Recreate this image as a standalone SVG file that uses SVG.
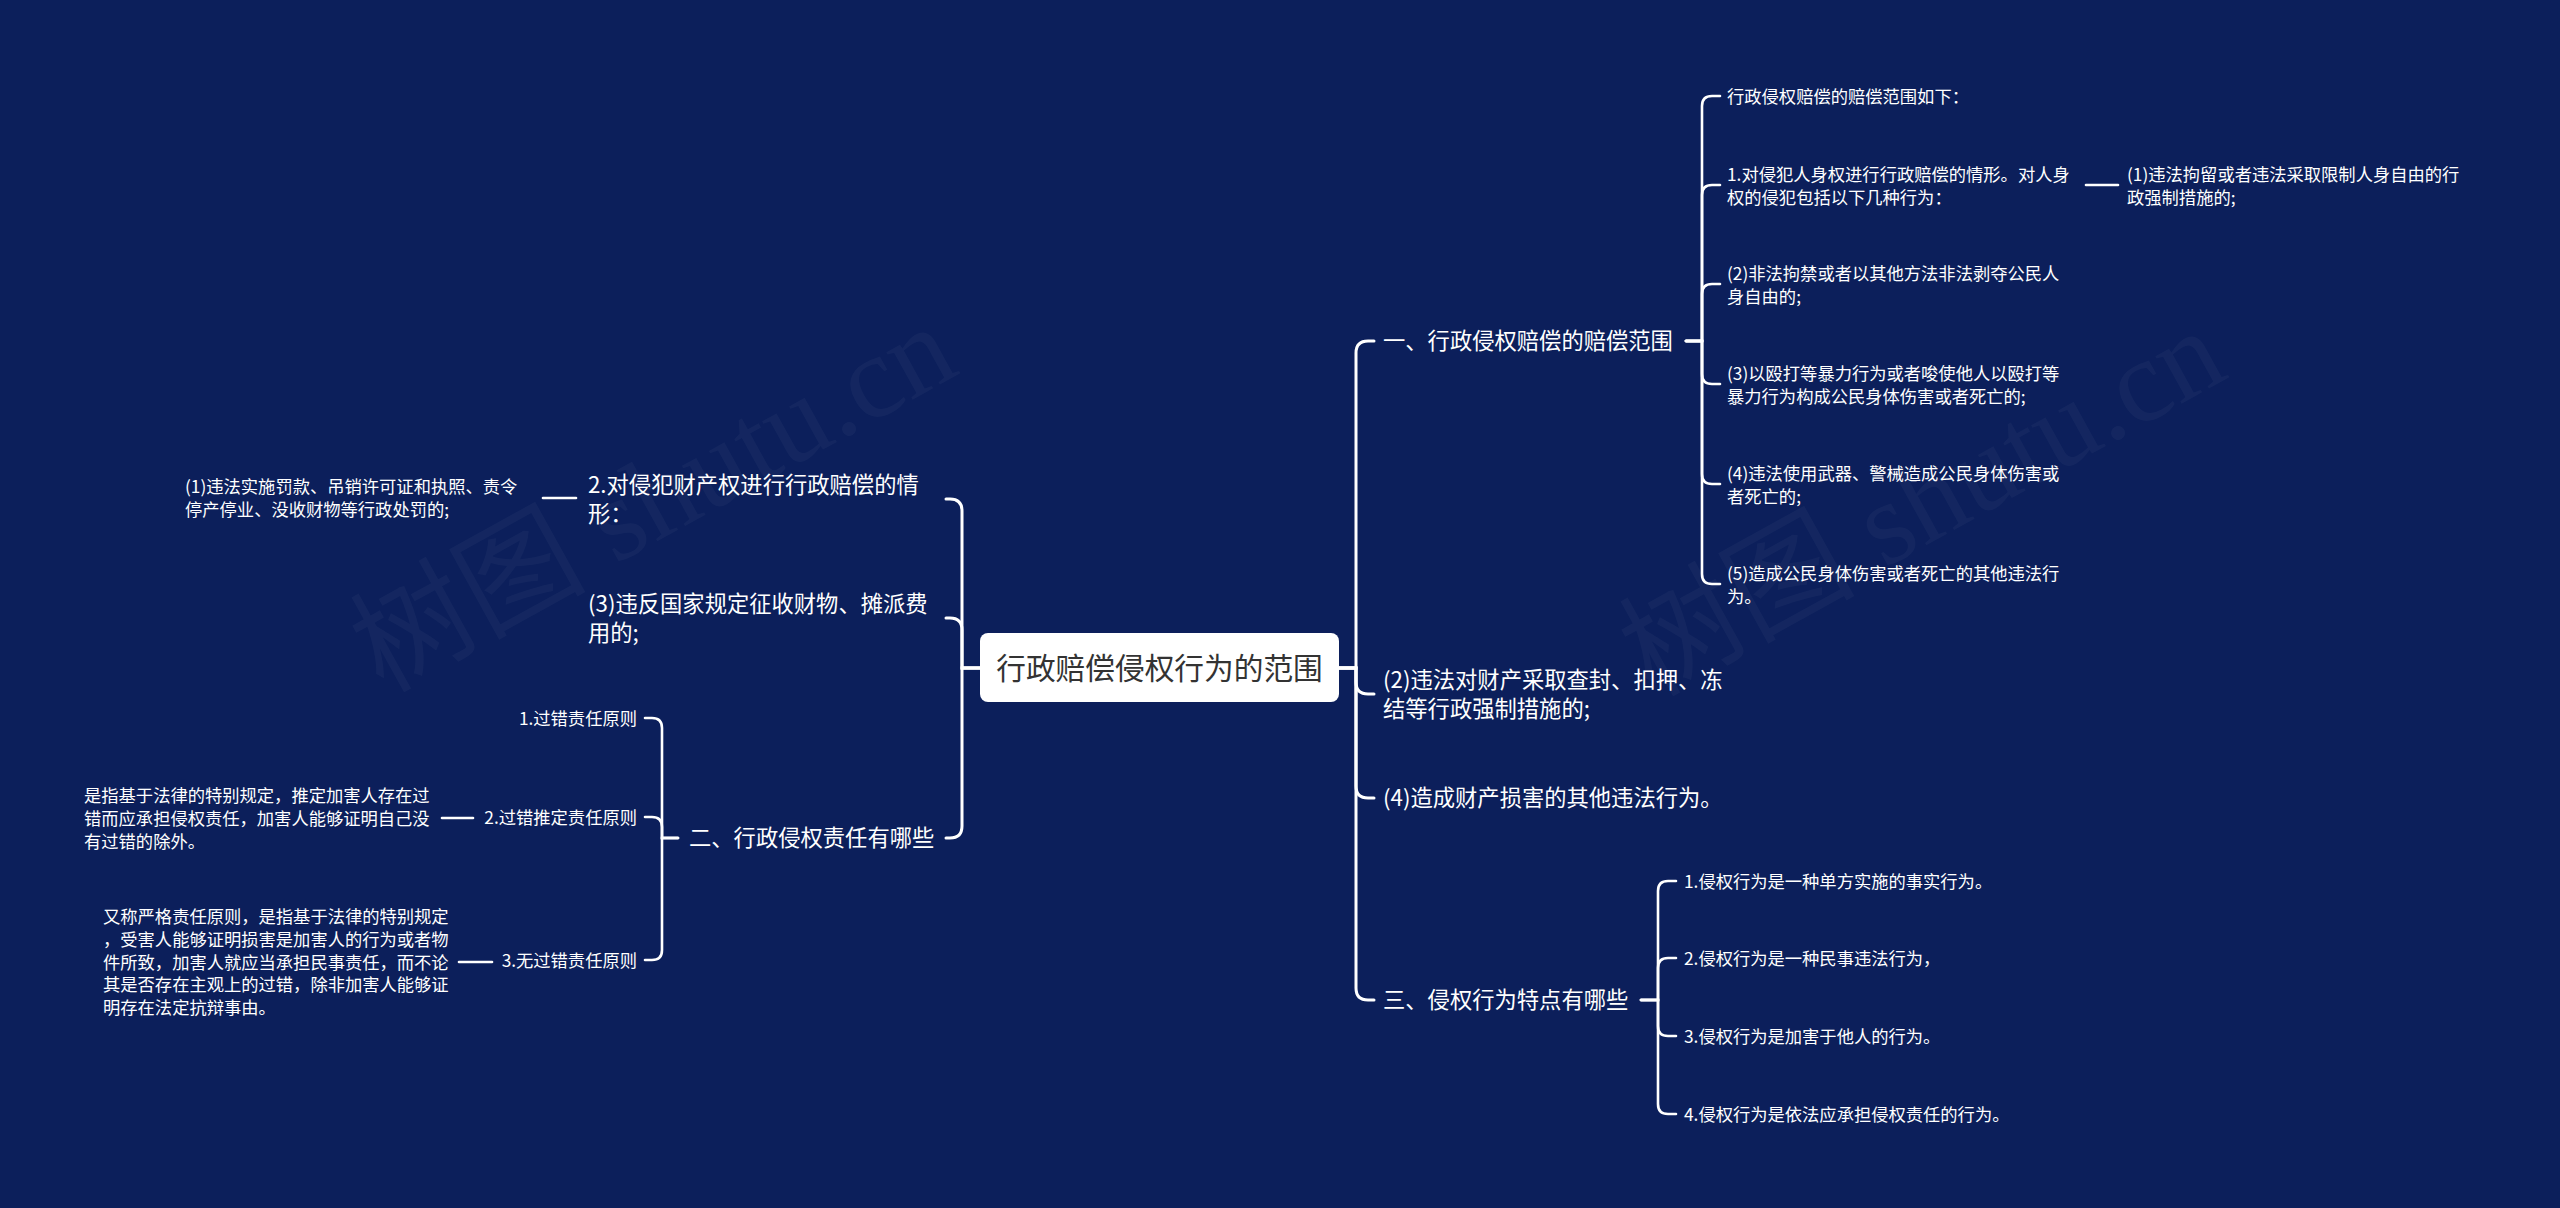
<svg xmlns="http://www.w3.org/2000/svg" width="2560" height="1208" viewBox="0 0 2560 1208">
<style>
.bg{fill:#0c1f5b}
.wm{font-family:"Liberation Serif","Noto Sans CJK SC",serif;font-size:118px;fill:#ffffff;fill-opacity:0.035}
.l1{font-family:"Noto Sans CJK SC","Microsoft YaHei",sans-serif;font-size:22.3px;fill:#ffffff}
.l2{font-family:"Noto Sans CJK SC","Microsoft YaHei",sans-serif;font-size:17.3px;fill:#ffffff}
.root-t{font-family:"Noto Sans CJK SC","Microsoft YaHei",sans-serif;font-size:29.7px;fill:#333333}
.root-b{fill:#ffffff}
.c{fill:none;stroke:#ffffff;stroke-width:2.6;stroke-linecap:round}
.cm{fill:none;stroke:#ffffff;stroke-width:3;stroke-linecap:round}
</style>
<rect class="bg" x="0" y="0" width="2560" height="1208"/>
<text class="wm" x="653" y="538" text-anchor="middle" transform="rotate(-29 653 498)">树图 shutu.cn</text>
<text class="wm" x="1922" y="542" text-anchor="middle" transform="rotate(-29 1922 502)">树图 shutu.cn</text>
<g id="connectors">
<path class="cm" d="M1339,668 H1356 V353 Q1356,341 1368,341 H1374"/>
<path class="cm" d="M1339,668 H1356 V682 Q1356,694 1368,694 H1374"/>
<path class="cm" d="M1339,668 H1356 V786 Q1356,798 1368,798 H1374"/>
<path class="cm" d="M1339,668 H1356 V988 Q1356,1000 1368,1000 H1374"/>
<path class="cm" d="M980,668 H962 V511 Q962,499 950,499 H946"/>
<path class="cm" d="M980,668 H962 V630 Q962,618 950,618 H946"/>
<path class="cm" d="M980,668 H962 V826 Q962,838 950,838 H946"/>
<path class="c" d="M1686,341 H1702 V106 Q1702,96 1712,96 H1720"/>
<path class="c" d="M1686,341 H1702 V195 Q1702,185 1712,185 H1720"/>
<path class="c" d="M1686,341 H1702 V294 Q1702,284 1712,284 H1720"/>
<path class="c" d="M1686,341 H1702 V374 Q1702,384 1712,384 H1720"/>
<path class="c" d="M1686,341 H1702 V474 Q1702,484 1712,484 H1720"/>
<path class="c" d="M1686,341 H1702 V574 Q1702,584 1712,584 H1720"/>
<path class="c" d="M1641,1000 H1658 V891 Q1658,881 1668,881 H1676"/>
<path class="c" d="M1641,1000 H1658 V968 Q1658,958 1668,958 H1676"/>
<path class="c" d="M1641,1000 H1658 V1026 Q1658,1036 1668,1036 H1676"/>
<path class="c" d="M1641,1000 H1658 V1104 Q1658,1114 1668,1114 H1676"/>
<path class="c" d="M678,838 H662 V728 Q662,718 652,718 H645"/>
<path class="c" d="M678,838 H662 V827 Q662,817 652,817 H645"/>
<path class="c" d="M678,838 H662 V950 Q662,960 652,960 H645"/>
<path class="c" d="M2086,185 H2118"/>
<path class="c" d="M543,498 H576"/>
<path class="c" d="M442,818 H473"/>
<path class="c" d="M459,962 H492"/>
</g>
<g id="root">
<rect class="root-b" x="980" y="633" width="359" height="69" rx="8"/>
<text class="root-t" x="1159.5" y="679" text-anchor="middle">行政赔偿侵权行为的范围</text>
</g>
<g id="n1">
<text class="l1" x="1383" y="349">一、行政侵权赔偿的赔偿范围</text>
</g>
<g id="n1-0">
<text class="l2" x="1727" y="103">行政侵权赔偿的赔偿范围如下：</text>
</g>
<g id="n1-1">
<text class="l2" x="1727" y="181"><tspan x="1727">1.对侵犯人身权进行行政赔偿的情形。对人身</tspan><tspan x="1727" dy="22.5">权的侵犯包括以下几种行为：</tspan></text>
</g>
<g id="n1-1-1">
<text class="l2" x="2127" y="181"><tspan x="2127">(1)违法拘留或者违法采取限制人身自由的行</tspan><tspan x="2127" dy="22.5">政强制措施的;</tspan></text>
</g>
<g id="n1-2">
<text class="l2" x="1727" y="280"><tspan x="1727">(2)非法拘禁或者以其他方法非法剥夺公民人</tspan><tspan x="1727" dy="22.5">身自由的;</tspan></text>
</g>
<g id="n1-3">
<text class="l2" x="1727" y="380"><tspan x="1727">(3)以殴打等暴力行为或者唆使他人以殴打等</tspan><tspan x="1727" dy="22.5">暴力行为构成公民身体伤害或者死亡的;</tspan></text>
</g>
<g id="n1-4">
<text class="l2" x="1727" y="480"><tspan x="1727">(4)违法使用武器、警械造成公民身体伤害或</tspan><tspan x="1727" dy="22.5">者死亡的;</tspan></text>
</g>
<g id="n1-5">
<text class="l2" x="1727" y="580"><tspan x="1727">(5)造成公民身体伤害或者死亡的其他违法行</tspan><tspan x="1727" dy="22.5">为。</tspan></text>
</g>
<g id="n2">
<text class="l1" x="1383" y="688"><tspan x="1383">(2)违法对财产采取查封、扣押、冻</tspan><tspan x="1383" dy="29">结等行政强制措施的;</tspan></text>
</g>
<g id="n3">
<text class="l1" x="1383" y="806">(4)造成财产损害的其他违法行为。</text>
</g>
<g id="n4">
<text class="l1" x="1383" y="1008">三、侵权行为特点有哪些</text>
</g>
<g id="n4-1"><text class="l2" x="1684" y="888">1.侵权行为是一种单方实施的事实行为。</text></g>
<g id="n4-2"><text class="l2" x="1684" y="965">2.侵权行为是一种民事违法行为，</text></g>
<g id="n4-3"><text class="l2" x="1684" y="1043">3.侵权行为是加害于他人的行为。</text></g>
<g id="n4-4"><text class="l2" x="1684" y="1121">4.侵权行为是依法应承担侵权责任的行为。</text></g>
<g id="m1">
<text class="l1" x="588" y="493"><tspan x="588">2.对侵犯财产权进行行政赔偿的情</tspan><tspan x="588" dy="29">形：</tspan></text>
</g>
<g id="m1-1">
<text class="l2" x="185" y="493"><tspan x="185">(1)违法实施罚款、吊销许可证和执照、责令</tspan><tspan x="185" dy="22.5">停产停业、没收财物等行政处罚的;</tspan></text>
</g>
<g id="m2">
<text class="l1" x="588" y="612"><tspan x="588">(3)违反国家规定征收财物、摊派费</tspan><tspan x="588" dy="29">用的;</tspan></text>
</g>
<g id="m3">
<text class="l1" x="689" y="846">二、行政侵权责任有哪些</text>
</g>
<g id="m3-1"><text class="l2" x="637" y="725" text-anchor="end">1.过错责任原则</text></g>
<g id="m3-2"><text class="l2" x="637" y="824" text-anchor="end">2.过错推定责任原则</text></g>
<g id="m3-3"><text class="l2" x="637" y="967" text-anchor="end">3.无过错责任原则</text></g>
<g id="m3-2-1">
<text class="l2" x="84" y="802"><tspan x="84">是指基于法律的特别规定，推定加害人存在过</tspan><tspan x="84" dy="22.8">错而应承担侵权责任，加害人能够证明自己没</tspan><tspan x="84" dy="22.8">有过错的除外。</tspan></text>
</g>
<g id="m3-3-1">
<text class="l2" x="103" y="923"><tspan x="103">又称严格责任原则，是指基于法律的特别规定</tspan><tspan x="103" dy="22.8">，受害人能够证明损害是加害人的行为或者物</tspan><tspan x="103" dy="22.8">件所致，加害人就应当承担民事责任，而不论</tspan><tspan x="103" dy="22.8">其是否存在主观上的过错，除非加害人能够证</tspan><tspan x="103" dy="22.8">明存在法定抗辩事由。</tspan></text>
</g>
</svg>
